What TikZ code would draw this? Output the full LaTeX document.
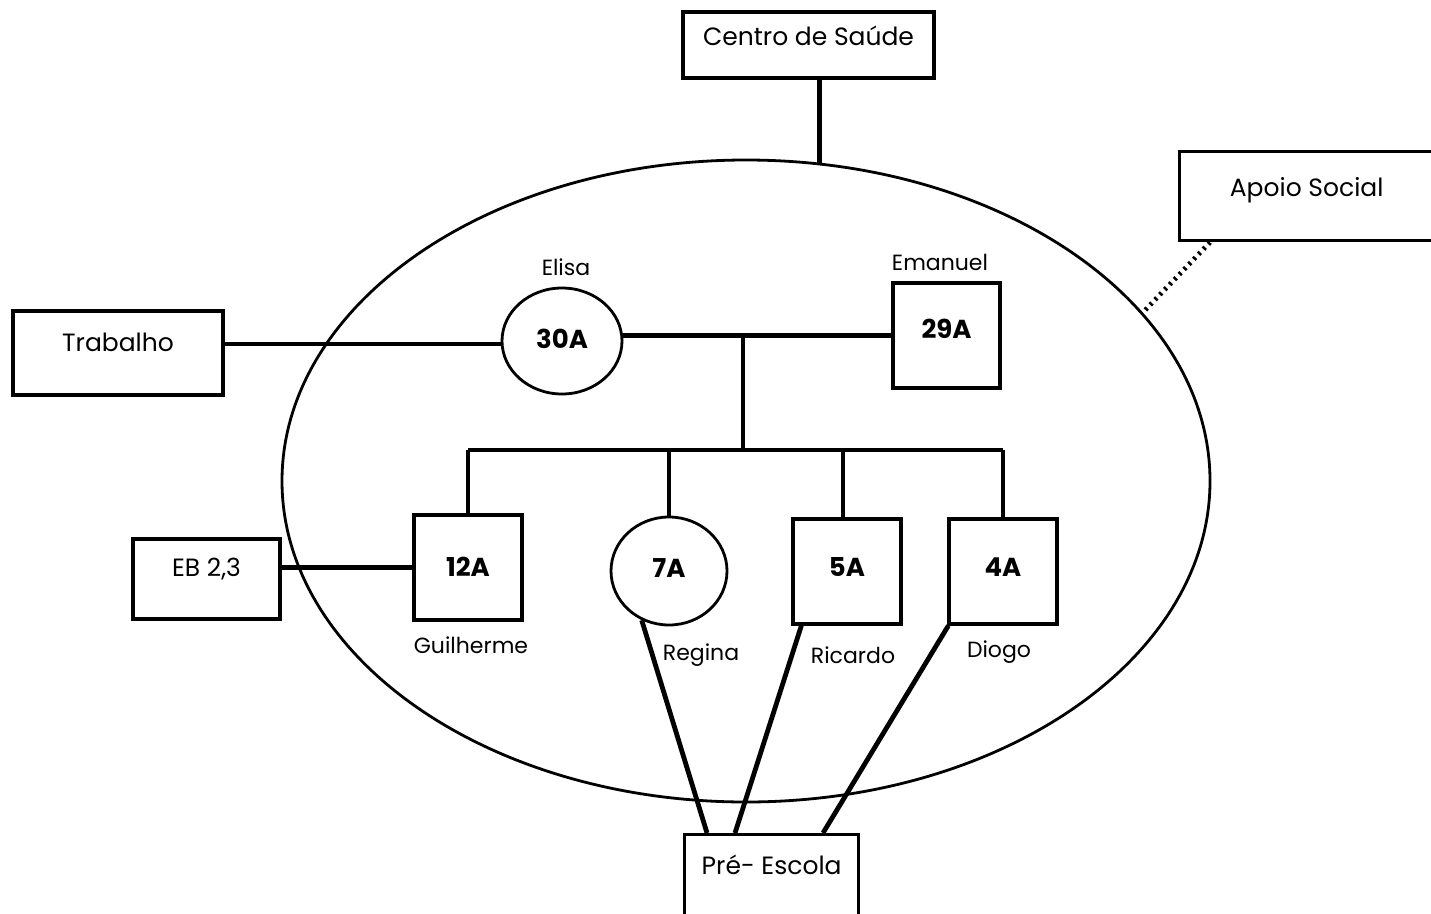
\documentclass[tikz,border=0pt]{standalone}
\usepackage{fontspec}
\setmainfont{Poppins}
\usetikzlibrary{shapes.geometric}
\begin{document}
\begin{tikzpicture}[x=1pt,y=-1pt,
  box/.style={draw,line width=3.3pt,rectangle,inner sep=0pt,font=\fontsize{25}{30}\selectfont,text height=17.5pt},
  person/.style={draw,line width=3.3pt,rectangle,inner sep=0pt,font=\bfseries\fontsize{26}{30}\selectfont,text height=18pt},
  femme/.style={draw,line width=2.8pt,ellipse,inner sep=0pt,font=\bfseries\fontsize{26}{30}\selectfont,text height=18pt},
  pname/.style={font=\fontsize{22}{26}\selectfont,inner sep=0pt},
  linkline/.style={line width=4.8pt},
  weakline/.style={line width=4.8pt,dash pattern=on 2.5pt off 4.5pt}]
\useasboundingbox (0,0) rectangle (1431,913);
% family ellipse
\node[draw,ellipse,line width=2.8pt,minimum width=928,minimum height=642,inner sep=0pt] (fam) at (746,481) {};
% external boxes
\node[box,minimum width=251,minimum height=66,text depth=16pt] (centro) at (808.5,45) {Centro de Saúde};
\node[box,minimum width=262,minimum height=89,text depth=17pt,anchor=north west] (apoio) at (1178,150) {\hspace*{-8pt}Apoio Social};
\node[box,minimum width=210,minimum height=84,text depth=20pt] (trab) at (118,353) {Trabalho};
\node[box,minimum width=147,minimum height=80,text depth=22pt] (eb) at (206.5,579) {EB 2,3};
\node[box,minimum width=174,minimum height=92,text depth=30pt,anchor=north west] (pre) at (683,833) {Pré- Escola};
% persons
\node[femme,minimum width=120,minimum height=106,text depth=4pt] (e30) at (562,341) {30A};
\node[person,minimum width=107,minimum height=105,text depth=12pt] (m29) at (946.5,335.5) {29A};
\node[person,minimum width=108,minimum height=105,text depth=0pt] (g12) at (468,567.5) {12A};
\node[femme,minimum width=116,minimum height=108,text depth=6pt] (r7) at (669,571) {7A};
\node[person,minimum width=108,minimum height=105,text depth=8pt] (ri5) at (847,571.5) {5A};
\node[person,minimum width=108,minimum height=105,text depth=8pt] (d4) at (1003,571.5) {4A};
% names
\node[pname] (nElisa) at (566,267) {Elisa};
\node[pname] (nEman) at (940,262) {Emanuel};
\node[pname] (nGuil) at (471,645) {Guilherme};
\node[pname] (nReg) at (701,655) {Regina};
\node[pname] (nRic) at (853,655) {Ricardo};
\node[pname] (nDio) at (999,652) {Diogo};
% connectors
\draw[linkline] (centro.south -| fam.77.7) -- (fam.77.7);
\draw[weakline] ([xshift=32pt]apoio.south west) -- (fam.23.1);
\draw[linkline] ([yshift=-3pt]trab.east |- e30.west) -- ([yshift=-3pt]e30.west);
\draw[linkline] (m29.west -| e30.east) -- (m29.west);
\coordinate (mid) at (743,335);
\coordinate (sib) at (743,450);
\draw[linkline] (mid) -- (sib);
\draw[linkline] (g12.north |- sib) -- (d4.north |- sib);
\draw[linkline] (g12.north) -- (g12.north |- sib);
\draw[linkline] (r7.north) -- (r7.north |- sib);
\draw[linkline] ([xshift=-4pt]ri5.north) -- ([xshift=-4pt]ri5.north |- sib);
\draw[linkline] (d4.north) -- (d4.north |- sib);
\draw[linkline] (eb.east |- g12.west) -- (g12.west);
\draw[linkline] (r7.241) -- ([xshift=24pt]pre.north west);
\draw[linkline] ([xshift=10pt]ri5.south west) -- ([xshift=52pt]pre.north west);
\draw[linkline] ([xshift=1pt]d4.south west) -- ([xshift=140pt]pre.north west);
\end{tikzpicture}
\end{document}
